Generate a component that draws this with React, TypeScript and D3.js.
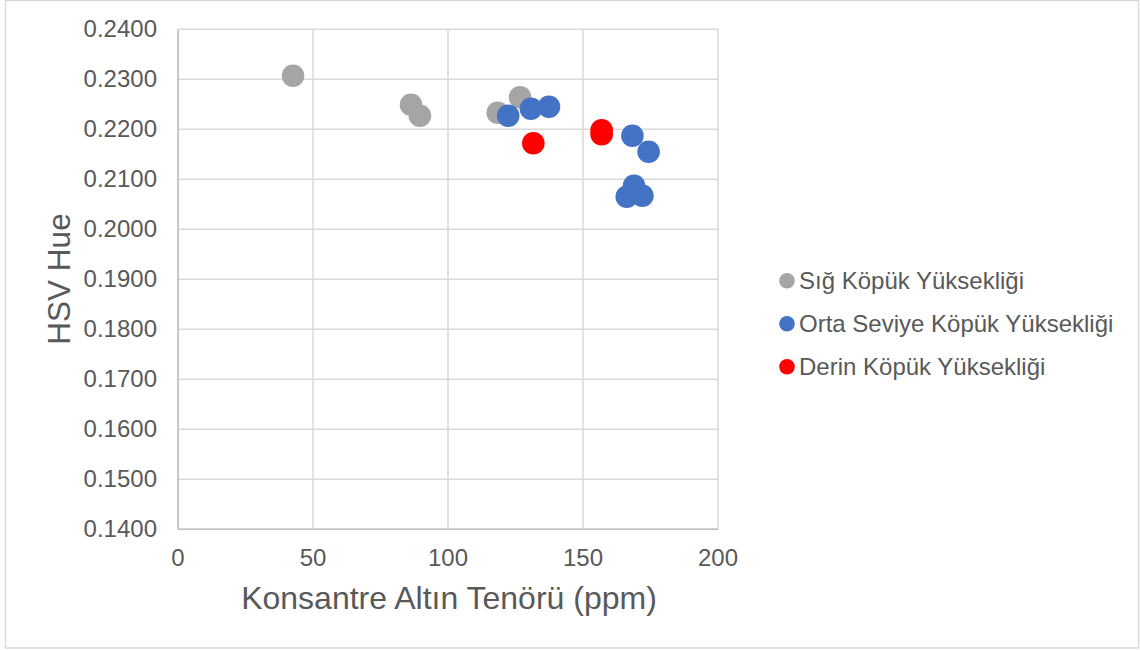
import React from "react";
import * as d3 from "d3";

const shallowX = [42.6, 86.3, 89.6, 118.4, 126.7];
const shallowY = [0.2307, 0.2249, 0.2227, 0.2233, 0.2264];
const midX = [122.3, 130.7, 137.4, 168.3, 174.3, 168.9, 166.2, 172.0];
const midY = [0.2227, 0.2241, 0.2245, 0.2187, 0.2155, 0.2087, 0.2065, 0.2067];
const deepX = [131.6, 156.9, 156.9];
const deepY = [0.2172, 0.2198, 0.2190];

const seriesNames = ["Sığ Köpük Yüksekliği", "Orta Seviye Köpük Yüksekliği", "Derin Köpük Yüksekliği"];
const seriesColors = ["#a5a5a5", "#4472c4", "#ff0000"];
const xTicks = [0, 50, 100, 150, 200];
const yTicks = [0.14, 0.15, 0.16, 0.17, 0.18, 0.19, 0.2, 0.21, 0.22, 0.23, 0.24];
const xTitle = "Konsantre Altın Tenörü (ppm)";
const yTitle = "HSV Hue";

export default function App() {
  const W = 1140, H = 650;
  const x = d3.scaleLinear().domain([0, 200]).range([178, 718]);
  const y = d3.scaleLinear().domain([0.14, 0.24]).range([529.3, 29.3]);
  const font = "'Liberation Sans', Arial, sans-serif";
  const series = [
    { xs: shallowX, ys: shallowY },
    { xs: midX, ys: midY },
    { xs: deepX, ys: deepY },
  ];
  return (
    <svg width={W} height={H} style={{ position: "absolute", left: 0, top: 0, background: "#fff" }} fontFamily={font}>
      <rect x={5.5} y={0.5} width={1133} height={647.5} fill="#fff" stroke="#d9d9d9" strokeWidth={1.5} />
      {xTicks.map((t) => (
        <line key={"gx" + t} x1={x(t)} x2={x(t)} y1={y(0.24)} y2={y(0.14)} stroke="#d9d9d9" strokeWidth={1.5} />
      ))}
      {yTicks.map((t) => (
        <line key={"gy" + t} x1={x(0)} x2={x(200)} y1={y(t)} y2={y(t)} stroke="#d9d9d9" strokeWidth={1.5} />
      ))}
      <line x1={x(0)} x2={x(0)} y1={y(0.24)} y2={y(0.14)} stroke="#bfbfbf" strokeWidth={1.5} />
      <line x1={x(0)} x2={x(200)} y1={y(0.14)} y2={y(0.14)} stroke="#bfbfbf" strokeWidth={1.5} />
      {yTicks.map((t) => (
        <text key={"ty" + t} x={157} y={y(t) + 8} textAnchor="end" fontSize={24} fill="#595959">
          {d3.format(".4f")(t)}
        </text>
      ))}
      {xTicks.map((t) => (
        <text key={"tx" + t} x={x(t)} y={566} textAnchor="middle" fontSize={24} fill="#595959">
          {t}
        </text>
      ))}
      <text x={449} y={609} textAnchor="middle" fontSize={32} fill="#595959">{xTitle}</text>
      <text transform={`translate(69.5,279) rotate(-90)`} textAnchor="middle" fontSize={31.5} fill="#595959">{yTitle}</text>
      {series.map((s, si) =>
        s.xs.map((xv, i) => (
          <circle key={si + "-" + i} cx={x(xv)} cy={y(s.ys[i])} r={11.3} fill={seriesColors[si]} />
        ))
      )}
      {seriesNames.map((n, i) => (
        <g key={n} transform={`translate(0,${280.7 + i * 43})`}>
          <circle cx={787} cy={0} r={7.8} fill={seriesColors[i]} />
          <text x={799} y={8} fontSize={24} fill="#595959">{n}</text>
        </g>
      ))}
    </svg>
  );
}
